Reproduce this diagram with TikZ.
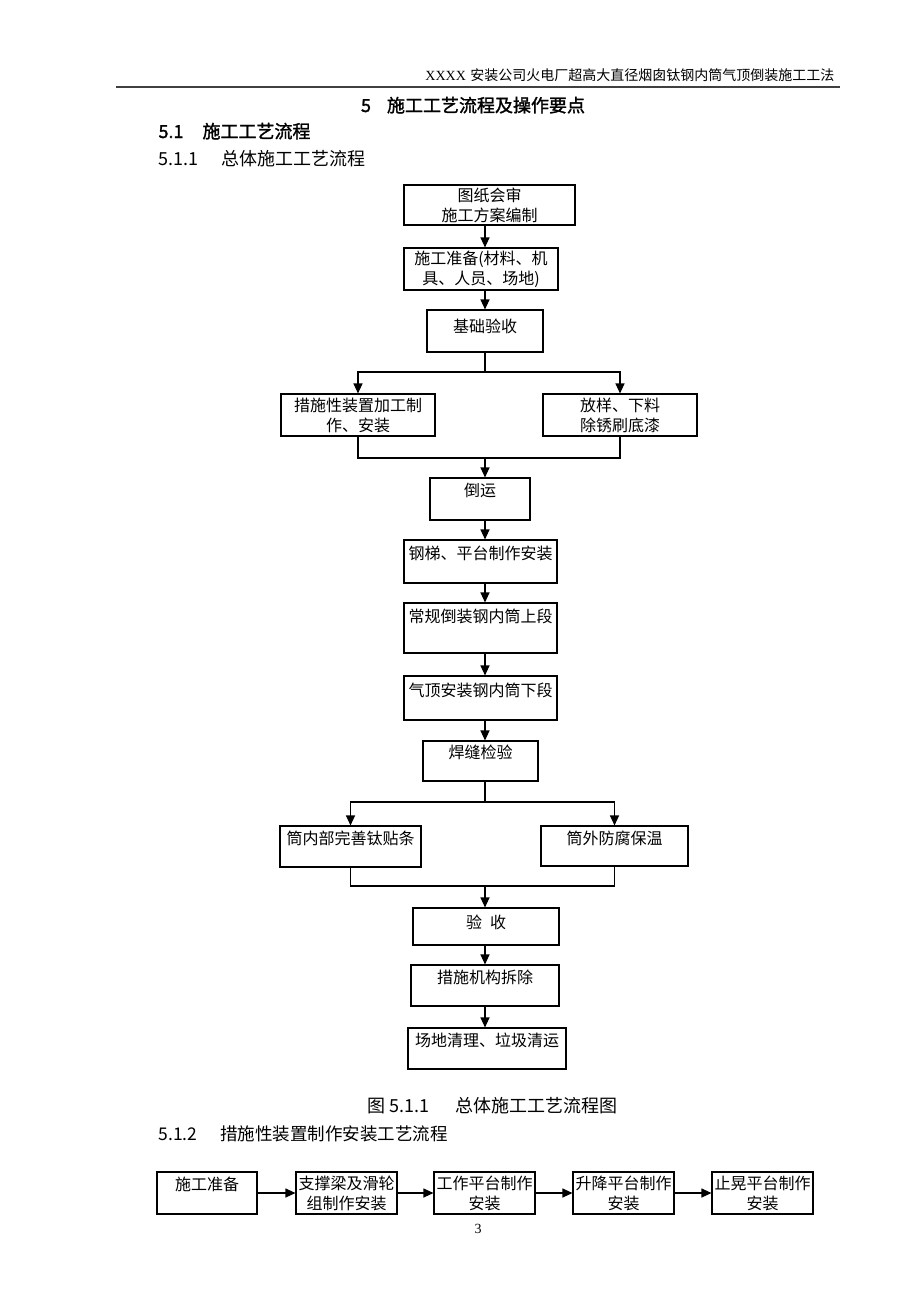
\documentclass[tikz,border=0pt]{standalone}
\usepackage{fontspec}
\usepackage{tikz}
\usetikzlibrary{arrows.meta}
\newfontfamily\cjk{Noto Sans CJK SC}
\newfontfamily\cjkbf{Noto Sans CJK SC}[FakeBold=1.6]
\newfontfamily\lat{Liberation Serif}

\tikzset{
  box/.style={draw, line width=1.1pt, inner sep=0pt, align=center,
    font=\cjk\fontsize{16}{20}\selectfont},
  toptext/.style={text height=12pt, text depth=#1},
  arr/.style={-{Triangle[length=10pt,width=9pt]}, line width=1.1pt},
  link/.style={line width=1.1pt}
}

\begin{document}
\begin{tikzpicture}[x=1pt,y=-1pt]
  \useasboundingbox[fill=white] (0,0) rectangle (920,1302);

  % Page header and headings
  \node[anchor=base east, font=\fontsize{14}{16}\selectfont] (hdr) at (838,80)
    {{\lat XXXX} \cjk 安装公司火电厂超高大直径烟囱钛钢内筒气顶倒装施工工法};
  \draw[line width=2.2pt, black!75] (116,87) -- (840,87);
  \node[anchor=base, font=\cjkbf\fontsize{18}{20}\selectfont] (ttl) at (473,112)
    {5\hspace{16pt}施工工艺流程及操作要点};
  \node[anchor=base west, font=\cjkbf\fontsize{18}{20}\selectfont] (sec) at (155,138)
    {5.1\hspace{19pt}施工工艺流程};
  \node[anchor=base west, font=\cjk\fontsize{18}{20}\selectfont] (sub1) at (155,165)
    {5.1.1\hspace{23pt}总体施工工艺流程};

  % Main flow boxes
  \node[box, minimum width=171pt, minimum height=40pt] (b1) at (489.5,205) {图纸会审\\施工方案编制};
  \node[box, minimum width=154pt, minimum height=42pt] (b2) at (481,269) {施工准备(材料、机\\具、人员、场地)};
  \node[box, toptext=10pt, minimum width=116pt, minimum height=42pt] (b3) at (485,331) {基础验收};
  \node[box, minimum width=154pt, minimum height=42pt] (b4) at (358,415) {措施性装置加工制\\作、安装};
  \node[box, minimum width=154pt, minimum height=42pt] (b5) at (620,415) {放样、下料\\除锈刷底漆};
  \node[box, toptext=18pt, minimum width=100pt, minimum height=42pt] (b6) at (480,499) {倒运};
  \node[box, toptext=17pt, minimum width=153pt, minimum height=43pt] (b7) at (480.5,561.5) {钢梯、平台制作安装};
  \node[box, toptext=24pt, minimum width=153pt, minimum height=50pt] (b8) at (480.5,628) {常规倒装钢内筒上段};
  \node[box, toptext=16pt, minimum width=153pt, minimum height=44pt] (b9) at (480.5,698) {气顶安装钢内筒下段};
  \node[box, toptext=18pt, minimum width=115pt, minimum height=40pt] (b10) at (480.5,761) {焊缝检验};
  \node[box, toptext=17pt, minimum width=141pt, minimum height=41pt] (b11) at (350.5,846.5) {筒内部完善钛贴条};
  \node[box, toptext=16pt, minimum width=147pt, minimum height=40pt] (b12) at (614.5,846) {筒外防腐保温};
  \node[box, toptext=9pt, minimum width=146pt, minimum height=37pt] (b13) at (486,926.5) {验\hspace{8pt}收};
  \node[box, toptext=17pt, minimum width=148pt, minimum height=41pt] (b14) at (485,985.5) {措施机构拆除};
  \node[box, toptext=17pt, minimum width=158pt, minimum height=41pt] (b15) at (487,1048.5) {场地清理、垃圾清运};

  % Split and merge points
  \coordinate (ax) at (485,0);
  \coordinate (sp1) at (485,372);
  \coordinate (mg1) at (485,458);
  \coordinate (sp2) at (485,802);
  \coordinate (mg2) at (485,886);

  % Connectors
  \draw[arr] (b1.south -| ax) -- (b2.north -| ax);
  \draw[arr] (b2.south -| ax) -- (b3.north -| ax);
  \draw[link] (b3.south) -- (sp1);
  \draw[arr] (sp1) -| (b4.north);
  \draw[arr] (sp1) -| (b5.north);
  \draw[link] (b4.south) |- (mg1) -| (b5.south);
  \draw[arr] (mg1) -- (mg1 |- b6.north);
  \draw[arr] (b6.south -| ax) -- (b7.north -| ax);
  \draw[arr] (b7.south -| ax) -- (b8.north -| ax);
  \draw[arr] (b8.south -| ax) -- (b9.north -| ax);
  \draw[arr] (b9.south -| ax) -- (b10.north -| ax);
  \draw[link] (b10.south -| ax) -- (sp2);
  \draw[arr] (sp2) -| (b11.north);
  \draw[arr] (sp2) -| (b12.north);
  \draw[link] (b11.south) |- (mg2) -| (b12.south);
  \draw[arr] (mg2) -- (mg2 |- b13.north);
  \draw[arr] (b13.south -| ax) -- (b14.north -| ax);
  \draw[arr] (b14.south -| ax) -- (b15.north -| ax);

  % Caption and second heading
  \node[anchor=base west, font=\cjk\fontsize{18}{20}\selectfont] (cap) at (364,1112)
    {图 5.1.1\hspace{26pt}总体施工工艺流程图};
  \node[anchor=base west, font=\cjk\fontsize{17.5}{20}\selectfont] (sub2) at (155,1140)
    {5.1.2\hspace{23pt}措施性装置制作安装工艺流程};

  % Second flow, one row
  \node[box, toptext=18pt, minimum width=100pt, minimum height=42pt] (r1) at (207,1193) {施工准备};
  \node[box, minimum width=101pt, minimum height=42pt] (r2) at (346.5,1193) {支撑梁及滑轮\\组制作安装};
  \node[box, minimum width=101pt, minimum height=42pt] (r3) at (484.5,1193) {工作平台制作\\安装};
  \node[box, minimum width=101pt, minimum height=42pt] (r4) at (623.5,1193) {升降平台制作\\安装};
  \node[box, minimum width=101pt, minimum height=42pt] (r5) at (762.5,1193) {止晃平台制作\\安装};
  \foreach \a/\b in {r1/r2, r2/r3, r3/r4, r4/r5}
    \draw[arr] (\a.east) -- (\b.west);

  % Page number
  \node[font=\lat\fontsize{14}{16}\selectfont] (pg) at (478,1229) {3};
\end{tikzpicture}
\end{document}
